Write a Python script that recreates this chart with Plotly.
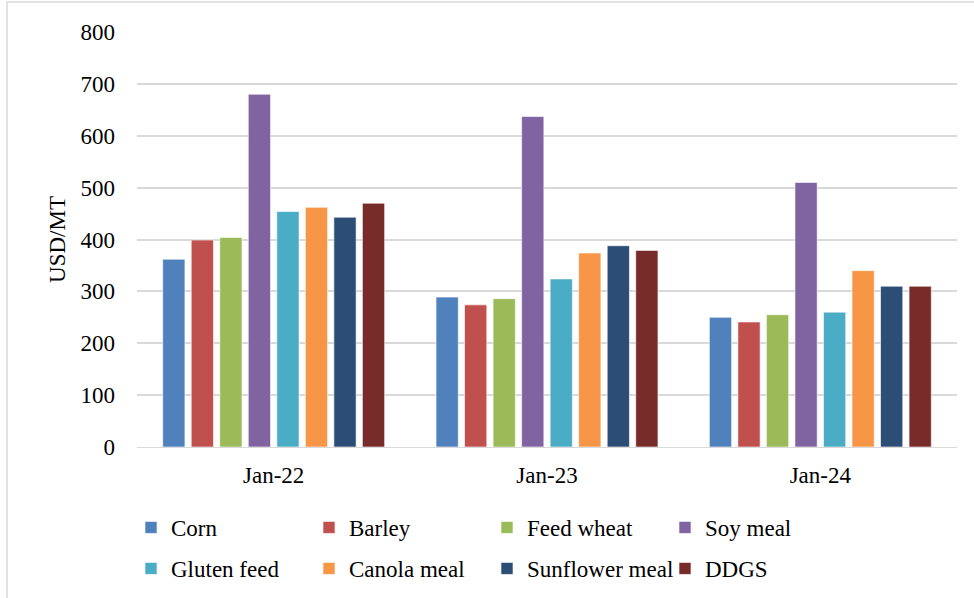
import plotly.graph_objects as go

categories = ["Jan-22", "Jan-23", "Jan-24"]
series_names = ["Corn", "Barley", "Feed wheat", "Soy meal",
                "Gluten feed", "Canola meal", "Sunflower meal", "DDGS"]
corn = [362, 289, 250]
barley = [399, 274, 241]
feed_wheat = [404, 286, 255]
soy_meal = [680, 637, 510]
gluten_feed = [454, 324, 260]
canola_meal = [462, 374, 340]
sunflower_meal = [443, 388, 310]
ddgs = [470, 379, 310]
values = [corn, barley, feed_wheat, soy_meal, gluten_feed, canola_meal, sunflower_meal, ddgs]
colors = ["#4F81BD", "#C0504D", "#9BBB59", "#8064A2",
          "#4BACC6", "#F79646", "#2C4D75", "#772C2A"]
y_ticks = [0, 100, 200, 300, 400, 500, 600, 700, 800]

W, H = 974, 598
L, R, T, B = 137, 17, 32, 151
PW, PH = W - L - R, H - T - B

fig = go.Figure()
for i, (name, vals, col) in enumerate(zip(series_names, values, colors)):
    fig.add_trace(go.Bar(x=categories, y=vals, name=name,
                         legend="legend" if i < 4 else "legend2",
                         marker=dict(color=col, line=dict(color="rgba(255,255,255,0.6)", width=1))))

font_family = "Liberation Serif, Times New Roman, serif"
leg_common = dict(orientation="h", x=(131 - L) / PW, xanchor="left", yanchor="top",
                  entrywidth=133, entrywidthmode="pixels",
                  font=dict(family=font_family, size=23, color="black"),
                  itemwidth=30, bgcolor="rgba(0,0,0,0)")
fig.update_layout(
    width=W, height=H,
    margin=dict(l=L, r=R, t=T, b=B, autoexpand=False),
    paper_bgcolor="white", plot_bgcolor="white",
    barmode="group", bargap=0.165, bargroupgap=0.22,
    font=dict(family=font_family, size=23, color="black"),
    xaxis=dict(showline=True, linecolor="#D9D9D9", linewidth=1, ticks="",
               tickfont=dict(family=font_family, size=23), showgrid=False, ticklabelstandoff=7),
    yaxis=dict(range=[0, 800], tickvals=y_ticks, showgrid=True, gridcolor="#D9D9D9",
               gridwidth=1.5, zeroline=False, ticks="", tickfont=dict(family=font_family, size=23),
               ticklabelstandoff=21,
               title=dict(text="USD/MT", font=dict(family=font_family, size=23), standoff=8)),
    legend=dict(y=(H - B - 506) / PH, **leg_common),
    legend2=dict(y=(H - B - 547) / PH, **leg_common),
    shapes=[dict(type="rect", xref="paper", yref="paper",
                 x0=(7 - L) / PW, x1=(985 - L) / PW,
                 y0=(H - B - 610) / PH, y1=(H - B - 2) / PH,
                 line=dict(color="#D9D9D9", width=1.5))],
)
fig.write_html("out.html")
